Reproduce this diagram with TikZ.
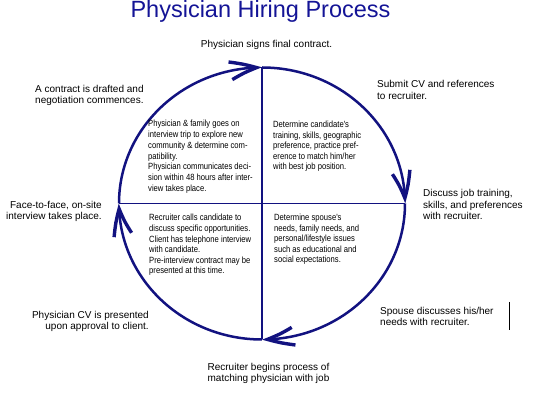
\documentclass[tikz,border=0pt]{standalone}
\usepackage{fontspec}
\setmainfont{Liberation Sans}
\newfontfamily\narrowf[FakeStretch=0.85]{Liberation Sans}
\usetikzlibrary{arrows.meta,bending}
\definecolor{navyc}{RGB}{18,18,128}
\definecolor{titlec}{RGB}{20,20,150}
\tikzset{
  cyclearc/.style={draw=navyc, line width=2.5pt,
    -{Straight Barb[length=27pt,width=18pt,line width=3.4pt,bend]}},
  crossline/.style={draw=navyc, line width=1.2pt},
  outerlbl/.style={inner sep=0pt, font=\fontsize{10}{11.5}\selectfont},
  innerlbl/.style={inner sep=0pt, align=left},
}
\begin{document}
\begin{tikzpicture}[x=1pt,y=1pt]
\useasboundingbox (0,0) rectangle (536,404);
% title
\node[inner sep=0pt, anchor=base, text=titlec, font=\fontsize{23.5}{28}\selectfont] (title) at (260.5,386) {Physician Hiring Process};
% cycle points
\coordinate (c) at (262,200.5);
\coordinate (T) at (262,336.5);
\coordinate (R) at (405,200.5);
\coordinate (B) at (262,64.5);
\coordinate (L) at (119,200.5);
% cross lines
\draw[crossline] (T) -- (B);
\draw[crossline] (L) -- (R);
% arcs
\draw[cyclearc] (L) arc[start angle=180, end angle=90, x radius=143pt, y radius=136pt];
\draw[cyclearc] (T) arc[start angle=90, end angle=0, x radius=143pt, y radius=136pt];
\draw[cyclearc] (R) arc[start angle=0, end angle=-90, x radius=143pt, y radius=136pt];
\draw[cyclearc] (B) arc[start angle=270, end angle=180, x radius=143pt, y radius=136pt];
% outer labels (base anchor = last line)
\node[outerlbl, anchor=base] (sign) at (266.5,356) {Physician signs final contract.};
\node[outerlbl, anchor=base west, align=left] (draft) at (35,300) {A contract is drafted and\\negotiation commences.};
\node[outerlbl, anchor=base west, align=left] (submit) at (377,304.5) {Submit CV and references\\to recruiter.};
\node[outerlbl, anchor=base west, align=left] (discuss) at (423,184) {Discuss job training,\\skills, and preferences\\with recruiter.};
\node[outerlbl, anchor=base east, align=right] (face) at (102,184) {Face-to-face, on-site\\interview takes place.};
\node[outerlbl, anchor=base east, align=right] (cv) at (149,74) {Physician CV is presented\\upon approval to client.};
\node[outerlbl, anchor=base west, align=left] (spouse) at (380,78) {Spouse discusses his/her\\needs with recruiter.};
\node[outerlbl, anchor=base, align=center] (match) at (268.5,22) {Recruiter begins process of\\matching physician with job};
\coordinate (barT) at (509.5,102);
\coordinate (barB) at (509.5,74);
\draw[black, line width=1pt] (barT) -- (barB);
% inner labels
\node[innerlbl, anchor=base west, font=\narrowf\fontsize{9}{10.7}\selectfont] (q1) at (148,212.8)
 {Physician \& family goes on\\interview trip to explore new\\community \& determine com-\\patibility.\\Physician communicates deci-\\sion within 48 hours after inter-\\view takes place.};
\node[innerlbl, anchor=base west, font=\narrowf\fontsize{9}{10.5}\selectfont] (q2) at (273,234)
 {Determine candidate's\\training, skills, geographic\\preference, practice pref-\\erence to match him/her\\with best job position.};
\node[innerlbl, anchor=base west, font=\narrowf\fontsize{9}{10.6}\selectfont] (q3) at (149,130)
 {Recruiter calls candidate to\\discuss specific opportunities.\\Client has telephone interview\\with candidate.\\Pre-interview contract may be\\presented at this time.};
\node[innerlbl, anchor=base west, font=\narrowf\fontsize{9}{10.5}\selectfont] (q4) at (274,141)
 {Determine spouse's\\needs, family needs, and\\personal/lifestyle issues\\such as educational and\\social expectations.};
\end{tikzpicture}
\end{document}
